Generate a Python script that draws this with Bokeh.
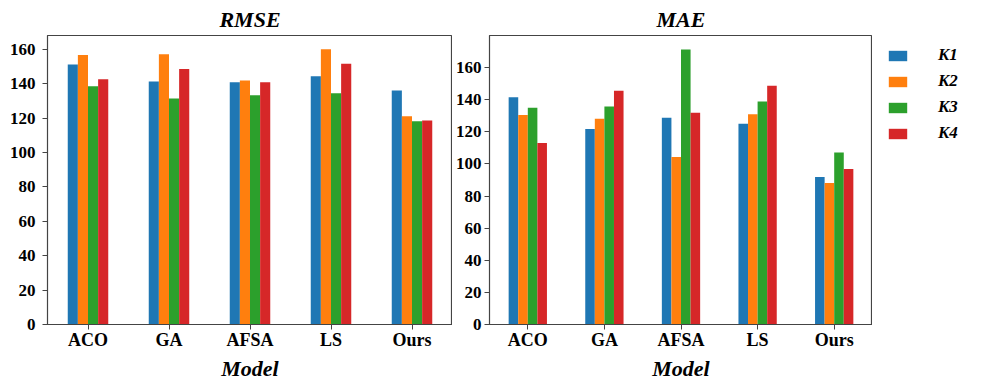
from bokeh.plotting import figure
from bokeh.models import ColumnDataSource, FactorRange, Range1d, Legend, LegendItem, FixedTicker
from bokeh.transform import dodge
from bokeh.layouts import row
from bokeh.embed import file_html
from bokeh.resources import INLINE

models = ["ACO", "GA", "AFSA", "LS", "Ours"]
series = ["K1", "K2", "K3", "K4"]
colors = ["#1f77b4", "#ff7f0e", "#2ca02c", "#d62728"]

rmse_k1 = [151.2, 141.2, 140.8, 144.3, 136.0]
rmse_k2 = [156.7, 157.1, 141.8, 160.0, 121.1]
rmse_k3 = [138.5, 131.4, 133.2, 134.5, 118.2]
rmse_k4 = [142.6, 148.5, 140.8, 151.6, 118.6]

mae_k1 = [141.5, 121.8, 128.8, 125.1, 91.9]
mae_k2 = [130.5, 128.2, 104.4, 130.9, 88.2]
mae_k3 = [135.0, 135.8, 171.3, 138.9, 107.1]
mae_k4 = [113.0, 145.6, 131.9, 148.7, 96.8]

y_ticks = [0, 20, 40, 60, 80, 100, 120, 140, 160]

FONT = "Liberation Serif"
offsets = [-0.1875, -0.0625, 0.0625, 0.1875]
H = 383


def make_fig(title, vals, ymax, width, mbl, mbr):
    src = ColumnDataSource(dict(model=models, K1=vals[0], K2=vals[1], K3=vals[2], K4=vals[3]))
    p = figure(x_range=FactorRange(factors=models, range_padding=0), y_range=Range1d(0, ymax),
               width=width, height=H, output_backend="svg", toolbar_location=None,
               min_border_left=mbl, min_border_right=mbr, min_border_top=0, min_border_bottom=0)
    for s, c, off in zip(series, colors, offsets):
        p.vbar(x=dodge("model", off, range=p.x_range), top=s, width=0.125, source=src,
               fill_color=c, line_color=None)
    p.title.text = title
    p.title.align = "center"
    p.title.text_font = FONT
    p.title.text_font_size = "22px"
    p.title.text_font_style = "bold italic"
    p.title.text_color = "black"
    p.title.standoff = 8
    p.xgrid.visible = False
    p.ygrid.visible = False
    p.outline_line_color = "#444444"
    p.outline_line_width = 1.2
    for ax in (p.xaxis[0], p.yaxis[0]):
        ax.axis_line_color = "#444444"
        ax.major_tick_line_color = "#444444"
        ax.major_tick_out = 5
        ax.major_tick_in = 0
        ax.minor_tick_out = 0
        ax.minor_tick_in = 0
        ax.major_label_text_font = FONT
        ax.major_label_text_font_size = "17px"
        ax.major_label_text_font_style = "bold"
        ax.major_label_text_color = "black"
    p.xaxis[0].major_label_text_font_size = "18px"
    p.yaxis[0].ticker = FixedTicker(ticks=y_ticks)
    p.xaxis[0].axis_label = "Model"
    p.xaxis[0].axis_label_text_font = FONT
    p.xaxis[0].axis_label_text_font_size = "22px"
    p.xaxis[0].axis_label_text_font_style = "bold italic"
    p.xaxis[0].axis_label_text_color = "black"
    p.xaxis[0].axis_label_standoff = 3
    p.xaxis[0].major_label_standoff = 0
    return p


p1 = make_fig("RMSE", [rmse_k1, rmse_k2, rmse_k3, rmse_k4], 168, 452, 47, 0)
p1.yaxis[0].major_label_standoff = 7
p2 = make_fig("MAE", [mae_k1, mae_k2, mae_k3, mae_k4], 180, 420, 35, 0)
p2.yaxis[0].major_label_standoff = 3

# legend panel (its frame is aligned with the two charts' frames by the row layout)
pl = figure(width=105, height=H, output_backend="svg", toolbar_location=None,
            x_range=Range1d(0, 1), y_range=Range1d(0, 1),
            min_border_left=4, min_border_right=0, min_border_top=0, min_border_bottom=0)
pl.axis.visible = False
pl.grid.visible = False
pl.outline_line_color = None
dummy = ColumnDataSource(dict(x=[10], top=[10]))
rends = [pl.vbar(x="x", top="top", width=0.1, source=dummy, fill_color=c, line_color=None) for c in colors]

legend = Legend(items=[LegendItem(label=s, renderers=[r]) for s, r in zip(series, rends)],
                location="top_left", orientation="vertical")
legend.glyph_width = 23
legend.glyph_height = 13
legend.label_standoff = 29
legend.label_height = 20
legend.spacing = 6
legend.padding = 0
legend.margin = 10
legend.border_line_alpha = 0
legend.background_fill_alpha = 0
legend.label_text_font = FONT
legend.label_text_font_size = "17px"
legend.label_text_font_style = "bold italic"
legend.label_text_color = "black"
pl.add_layout(legend)

layout = row(p1, p2, pl)
open("out.html", "w").write(file_html(layout, INLINE))
